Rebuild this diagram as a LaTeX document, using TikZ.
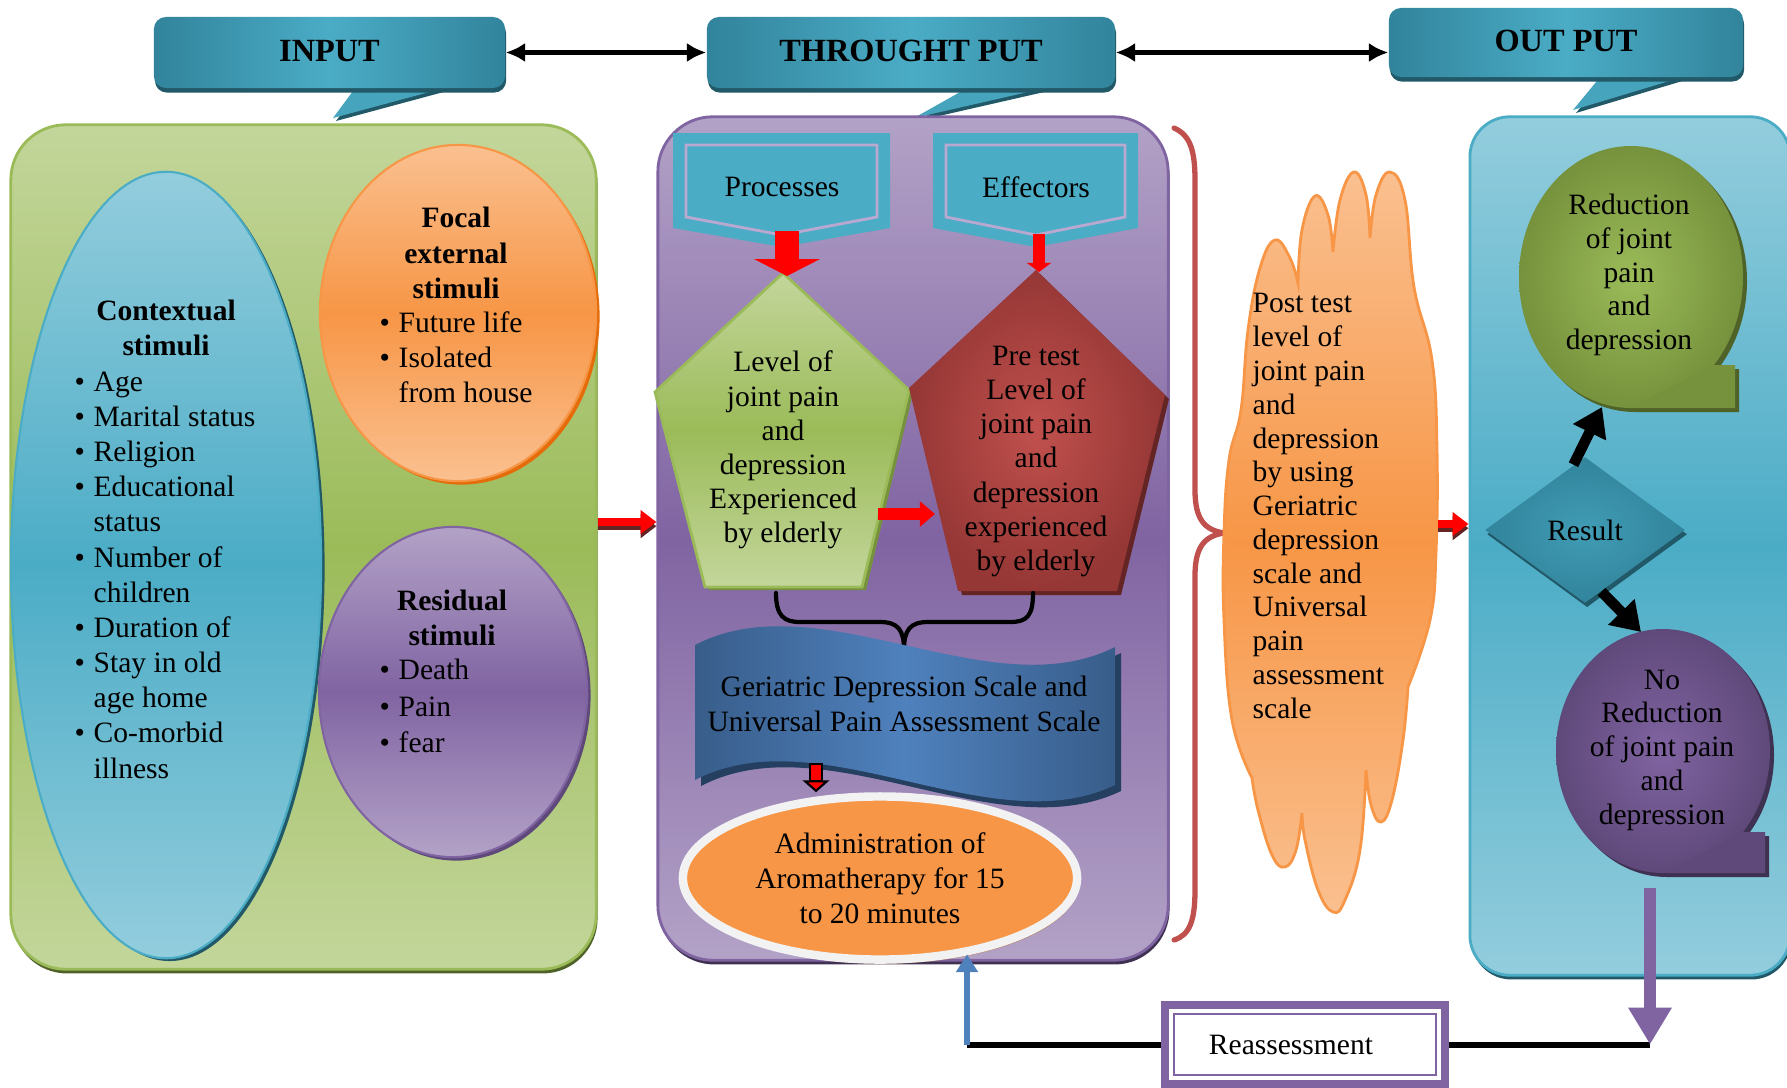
\documentclass[tikz,border=0pt]{standalone}
\usepackage{fontspec}
\setmainfont{Liberation Serif}
\usetikzlibrary{arrows.meta,shapes.geometric,shadows}

\definecolor{grnL}{HTML}{C3D69B}
\definecolor{grnM}{HTML}{9BBB59}
\definecolor{grnD}{HTML}{76923C}
\definecolor{grnDD}{HTML}{4F6228}
\definecolor{cyanL}{HTML}{93CDDD}
\definecolor{cyanM}{HTML}{4BACC6}
\definecolor{tealD}{HTML}{31849B}
\definecolor{tealDD}{HTML}{215968}
\definecolor{orL}{HTML}{FAC090}
\definecolor{orM}{HTML}{F79646}
\definecolor{orD}{HTML}{E46C0A}
\definecolor{orDD}{HTML}{984807}
\definecolor{puL}{HTML}{B3A2C7}
\definecolor{puM}{HTML}{8064A2}
\definecolor{puD}{HTML}{5F497A}
\definecolor{puDD}{HTML}{3F3151}
\definecolor{lilac}{HTML}{B9A8CF}
\definecolor{redM}{HTML}{C0504D}
\definecolor{redD}{HTML}{953735}
\definecolor{redDD}{HTML}{632423}
\definecolor{bluM}{HTML}{4F81BD}
\definecolor{bluD}{HTML}{385D8A}
\definecolor{bluDD}{HTML}{243F60}

\newcommand{\bul}{\makebox[0.19cm][l]{\textbullet}}
\newcommand{\nobul}{\hspace*{0.19cm}}

\begin{document}
\begin{tikzpicture}[x=0.01cm,y=-0.01cm,
  txt/.style={inner sep=0pt,align=center,font=\fontsize{8.4}{10}\selectfont},
  hd/.style={txt,font=\fontsize{8.4}{10}\selectfont\bfseries},
  banner/.style={rounded corners=0.12cm,inner sep=0pt,left color=tealD,right color=tealD,middle color=cyanM,
    general shadow={fill=tealDD,shadow yshift=-1.3pt,shadow xshift=0.3pt},font=\fontsize{9.2}{11}\selectfont\bfseries},
  panel/.style={inner sep=0pt,line width=0.8pt},
  blob/.style={ellipse,inner sep=0pt,line width=0.6pt},
  dblarr/.style={line width=1.5pt,{Latex[length=5.5pt,width=5.5pt]}-{Latex[length=5.5pt,width=5.5pt]}},
  redarr/.style={red,line width=2.3pt,-{Triangle[width=6.5pt,length=4.5pt]}},
  blkarr/.style={line width=3pt,-{Triangle[width=10pt,length=8pt]}},
  purarr/.style={puM,line width=3.4pt,-{Triangle[width=11.7pt,length=10.5pt]}},
  bluarr/.style={bluM,line width=1.5pt,-{Triangle[width=6pt,length=5pt]}}]
\useasboundingbox (0,0) rectangle (1787,1087);
\clip (0,0) rectangle (1787,1087);
\fill[white] (0,0) rectangle (1787,1087);

\fill[tealDD] (359,90) -- (451,90) -- (336,121) -- cycle;
\fill[cyanM!80!tealD] (356,87) -- (448,87) -- (333,118) -- cycle;
\node[banner,minimum width=3.51cm,minimum height=0.71cm] (hin) at (329.5,52.5) {\raisebox{1.1pt}{INPUT}};
\fill[tealDD] (972,90) -- (1053,90) -- (917,121) -- cycle;
\fill[cyanM!80!tealD] (969,87) -- (1050,87) -- (914,118) -- cycle;
\node[banner,minimum width=4.08cm,minimum height=0.71cm] (hth) at (911,52.5) {\raisebox{1.1pt}{THROUGHT PUT}};
\fill[tealDD] (1604,79) -- (1689,79) -- (1576,113) -- cycle;
\fill[cyanM!80!tealD] (1601,76) -- (1686,76) -- (1573,110) -- cycle;
\node[banner,minimum width=3.54cm,minimum height=0.69cm] (hout) at (1566,42.5) {\raisebox{1.1pt}{OUT PUT}};

\draw[dblarr] (hin.east) -- (hth.west);
\draw[dblarr] (hth.east) -- (hth.east -| hout.west);

\node[panel,rounded corners=0.55cm,minimum width=5.85cm,minimum height=8.44cm,top color=grnL,bottom color=grnL,middle color=grnM,draw=grnM,
  general shadow={fill=grnDD,shadow yshift=-1.2pt,shadow xshift=0.4pt}] (inbox) at (303.5,547) {};
\node[panel,rounded corners=0.55cm,minimum width=5.10cm,minimum height=8.43cm,top color=puL,bottom color=puL,middle color=puM,draw=puM,
  general shadow={fill=puDD,shadow yshift=-1.2pt,shadow xshift=0.4pt}] (thbox) at (913,538.5) {};
\node[panel,rounded corners=0.4cm,minimum width=3.20cm,minimum height=8.58cm,top color=cyanL,bottom color=cyanL,middle color=cyanM,draw=cyanM,
  general shadow={fill=tealDD,shadow yshift=-1.2pt,shadow xshift=0.4pt}] (outbox) at (1630,546) {};

\node[blob,minimum width=3.1cm,minimum height=7.86cm,top color=cyanL,bottom color=cyanL,middle color=cyanM,draw=cyanM,
  general shadow={fill=tealDD,shadow xshift=1pt,shadow yshift=-0.8pt}] (ctx) at (166,565) {};
\node[blob,minimum width=2.76cm,minimum height=3.36cm,top color=orL,bottom color=orL,middle color=orM,draw=orM,
  general shadow={fill=orD,shadow xshift=1pt,shadow yshift=-1pt}] (foc) at (458,313) {};
\node[blob,minimum width=2.68cm,minimum height=3.30cm,top color=puL,bottom color=puL,middle color=puM,draw=puM,
  general shadow={fill=puD,shadow xshift=1pt,shadow yshift=-1pt}] (resid) at (453,692) {};

\node[hd] (ctxh) at (166,328) {Contextual\\stimuli};
\node[txt,align=left,anchor=west] (ctxl) at (74,575) {\bul Age\\\bul Marital status\\\bul Religion\\\bul Educational\\\nobul status\\
  \bul Number of\\\nobul children\\\bul Duration of\\\bul Stay in old\\\nobul age home\\\bul Co-morbid\\\nobul illness};
\node[hd] (foch) at (456,253) {Focal\\external\\stimuli};
\node[txt,align=left,anchor=west] (focl) at (379,357.5) {\bul Future life\\\bul Isolated\\\nobul from house};
\node[hd] (resh) at (452,618) {Residual\\stimuli};
\node[txt,align=left,anchor=west,font=\fontsize{8.4}{10.3}\selectfont] (resl) at (379,706) {\bul Death\\\bul Pain\\\bul fear};

\coordinate (ar1) at ([yshift=0.25cm]inbox.east);
\draw[redarr,redDD] ([yshift=-1.2pt]ar1) -- ([yshift=-1.2pt]ar1 -| thbox.west);
\draw[redarr] (ar1) -- (ar1 -| thbox.west);

\fill[cyanM] (673,133) -- (890,133) -- (890,228) -- (782,247) -- (673,228) -- cycle;
\draw[lilac,line width=0.8pt] (686,145) -- (877,145) -- (877,217) -- (782,235) -- (686,217) -- cycle;
\fill[cyanM] (933,133) -- (1138,133) -- (1138,228) -- (1036,247) -- (933,228) -- cycle;
\draw[lilac,line width=0.8pt] (946,145) -- (1125,145) -- (1125,217) -- (1036,235) -- (946,217) -- cycle;
\node[txt] (proc) at (782,187) {Processes};
\node[txt] (eff) at (1036,187) {Effectors};

\fill[grnD] (787,276) -- (913,393) -- (866,590) -- (709,590) -- (659,395) -- cycle;
\shadedraw[top color=grnL,bottom color=grnL,middle color=grnM,draw=grnM,line width=0.8pt]
  (783,273) -- (909,390) -- (862,587) -- (705,587) -- (655,392) -- cycle;
\fill[redDD] (1040,274) -- (1169,399) -- (1121,595) -- (962,595) -- (913,392) -- cycle;
\shade[inner color=redM,outer color=redD] (1036,270) -- (1165,395) -- (1117,591) -- (958,591) -- (909,388) -- cycle;
\node[txt,font=\fontsize{8.4}{9.7}\selectfont] (lvl) at (783,450) {Level of\\joint pain\\and\\depression\\Experienced\\by elderly};
\node[txt,font=\fontsize{8.4}{9.7}\selectfont] (pre) at (1036,461.5) {Pre test\\Level of\\joint pain\\and\\depression\\experienced\\by elderly};

\coordinate (proctip) at (787,231);
\coordinate (p1top) at (787,276);
\coordinate (efftip) at (1039,234);
\coordinate (p2top) at (1039,272);
\draw[red,line width=7.1pt,-{Triangle[width=18.5pt,length=4.8pt]}] (proctip) -- (p1top);
\draw[red,line width=3.4pt,-{Triangle[width=6.8pt,length=2.6pt]}] (efftip) -- (p2top);
\coordinate (p1r) at (878,514);
\coordinate (p2l) at (935,514);
\draw[red,line width=3.4pt,-{Triangle[width=7pt,length=4.3pt]}] (p1r) -- (p2l);

\draw[line width=1.2pt,line cap=round] (776,593) .. controls (776,616) and (784,622) .. (800,622) -- (880,622)
  .. controls (898,622) and (904,630) .. (904,650) .. controls (904,630) and (910,622) .. (928,622) -- (1010,622)
  .. controls (1027,622) and (1033,616) .. (1033,593);

\fill[bluDD] (701,651) .. controls (826,586) and (996,716) .. (1121,653) -- (1121,791) .. controls (996,851) and (826,721) .. (701,786) -- cycle;
\shade[left color=bluD,right color=bluD,middle color=bluM] (695,645) .. controls (820,580) and (990,710) .. (1115,647)
  -- (1115,785) .. controls (990,845) and (820,715) .. (695,780) -- cycle;
\node[txt,font=\fontsize{8.4}{10}\selectfont] (gds) at (904,704) {Geriatric Depression Scale and\\Universal Pain Assessment Scale};

\node[ellipse,txt,minimum width=3.94cm,minimum height=1.63cm,fill=orM,draw=white!95!black,line width=2.4pt,
  general shadow={fill=orDD!70,shadow yshift=-1.2pt,shadow xshift=0.6pt}] (aroma) at (880,878) {Administration of\\Aromatherapy for 15\\to 20 minutes};

\coordinate (wavebot) at (816,763);
\draw[black,line width=4pt,-{Triangle[width=7.6pt,length=3.4pt,fill=red,line width=0.6pt]}] (wavebot) -- (wavebot |- aroma.north);
\draw[red,line width=2.8pt,shorten >=3.6pt] ([yshift=-0.6pt]wavebot) -- (wavebot |- aroma.north);

\draw[redM,line width=1.5pt,line cap=round] (1174,128) .. controls (1190,135) and (1195,150) .. (1195,180) -- (1195,490)
  .. controls (1195,520) and (1205,530) .. (1224,533) .. controls (1205,536) and (1195,546) .. (1195,576) -- (1195,890)
  .. controls (1195,920) and (1190,935) .. (1174,940);

\shadedraw[top color=orL,bottom color=orL,middle color=orM,draw=orM,line width=0.8pt]
  plot[smooth,tension=0.7] coordinates {(1252,778) (1232,720) (1224,620) (1224,533) (1229,460) (1241,410) (1248,330) (1260,268) (1275,240) (1290,258) (1298,283)}
  -- plot[smooth,tension=0.7] coordinates {(1298,283) (1302,230) (1315,196) (1328,215) (1333,252)}
  -- plot[smooth,tension=0.7] coordinates {(1333,252) (1340,200) (1354,172) (1366,195) (1370,238)}
  -- plot[smooth,tension=0.7] coordinates {(1370,238) (1376,195) (1390,172) (1405,200) (1414,287) (1432,360) (1437,450) (1436,553) (1430,620) (1408,687)}
  -- plot[smooth,tension=0.7] coordinates {(1408,687) (1403,740) (1392,800) (1381,822) (1371,805) (1366,770)}
  -- plot[smooth,tension=0.7] coordinates {(1366,770) (1360,850) (1345,900) (1333,912) (1318,890) (1305,840) (1302,813)}
  -- plot[smooth,tension=0.7] coordinates {(1302,813) (1296,850) (1285,867) (1272,855) (1258,810) (1252,778)}
  -- cycle;
\node[txt,align=left,anchor=west,font=\fontsize{8.4}{9.6}\selectfont] (post) at (1252,506) {Post test\\level of\\joint pain\\and\\depression\\by using\\Geriatric\\depression\\scale and\\Universal\\pain\\assessment\\scale};

\coordinate (ar2) at (1438,524);
\draw[redarr,redDD] ([yshift=-1.2pt]ar2) -- ([yshift=-1.2pt]ar2 -| outbox.west);
\draw[redarr] (ar2) -- (ar2 -| outbox.west);

\fill[grnDD] (1635,281) ellipse [x radius=112,y radius=131];
\fill[grnDD] (1635,412) -- (1739,412) -- (1739,369) -- (1716,369) -- cycle;
\shade[inner color=grnM,outer color=grnD] (1631,277) ellipse [x radius=112,y radius=131];
\fill[grnD] (1631,408) -- (1735,408) -- (1735,365) -- (1712,365) -- cycle;
\node[txt,font=\fontsize{8.4}{9.55}\selectfont] (red1) at (1629,275) {Reduction\\of joint\\pain\\and\\depression};

\fill[puDD] (1667,755) ellipse [x radius=107,y radius=122];
\fill[puDD] (1667,877) -- (1769,877) -- (1769,836) -- (1747,836) -- cycle;
\shade[inner color=puM,outer color=puD] (1663,751) ellipse [x radius=107,y radius=122];
\fill[puD] (1663,873) -- (1765,873) -- (1765,832) -- (1743,832) -- cycle;
\node[txt,font=\fontsize{8.4}{9.6}\selectfont] (nored) at (1662,750) {No\\Reduction\\of joint pain\\and\\depression};

\node[diamond,txt,minimum width=2.0cm,minimum height=1.46cm,inner color=cyanM!60!tealD,outer color=tealD,
  general shadow={fill=tealDD,shadow xshift=0.6pt,shadow yshift=-1.2pt}] (res) at (1585,530) {Result};
\coordinate (gbot) at (1602,407);
\coordinate (pbtop) at (1641,632);
\draw[blkarr] (res.100) -- (gbot);
\draw[blkarr] (res.-75) -- (pbtop);

\node[txt,draw=puM,line width=2.3pt,fill=white,minimum width=2.8cm,minimum height=0.79cm] (reas) at (1305,1044.5) {Reassessment\hspace*{0.28cm}};
\draw[puM,line width=0.6pt] ([shift={(3.8pt,-3.8pt)}]reas.north west) rectangle ([shift={(-3.8pt,3.8pt)}]reas.south east);

\coordinate (bup) at (967,1045);
\coordinate (pdown) at (1650,888);
\draw[line width=1.7pt] (reas.west) -- (reas.west -| bup);
\draw[bluarr] (reas.west -| bup) -- (bup |- aroma.-40);
\draw[line width=1.7pt] (reas.east) -- (pdown |- reas.east);
\draw[purarr] (pdown) -- (pdown |- reas.east);
\end{tikzpicture}
\end{document}
